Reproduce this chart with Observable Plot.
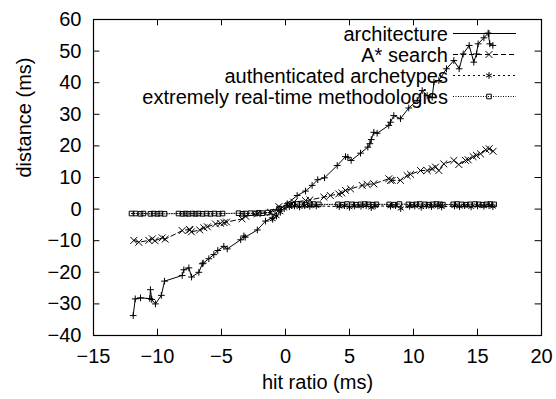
<!DOCTYPE html>
<html>
<head>
<meta charset="utf-8">
<script src="https://cdn.jsdelivr.net/npm/d3@7"></script>
<script src="https://cdn.jsdelivr.net/npm/@observablehq/plot@0.6"></script>
<style>
  html, body { margin: 0; padding: 0; background: #fff; }
  svg { font-family: "Liberation Sans", Arial, sans-serif; }
</style>
</head>
<body>
<div id="chart"></div>
<script>
const seriesNames = ["architecture", "A* search", "authenticated archetypes", "extremely real-time methodologies"];
const xTicks = [-15, -10, -5, 0, 5, 10, 15, 20];
const yTicks = [-40, -30, -20, -10, 0, 10, 20, 30, 40, 50, 60];
const xLabel = "hit ratio (ms)";
const yLabel = "distance (ms)";

const architecture = [
  [-11.9,-33.7],[-11.74,-28.4],[-11.33,-28.1],[-10.6,-28.3],[-10.55,-25.5],[-10.45,-28.6],[-10.16,-30],
  [-9.7,-27.3],[-9.45,-22.8],[-8.07,-21],[-7.94,-19.2],[-7.55,-18.6],[-7.34,-21.5],[-6.77,-20],
  [-6.5,-17.3],[-6.43,-17.1],[-5.99,-15.7],[-5.6,-14.4],[-5.29,-13.1],[-4.82,-11.8],[-4.55,-12.6],
  [-3.5,-9.7],[-3.25,-8.5],[-3.15,-8.9],[-2.2,-6.6],[-1.56,-3.8],[-1.04,-2.8],[-0.52,-0.2],
  [0.13,1.7],[0.91,4.3],[1.56,5.7],[2.08,7.5],[2.52,9.3],[3.05,9.9],[4.04,13.8],[4.69,16.6],
  [4.87,16.4],[5.13,15.4],[5.86,17.7],[6.43,19.6],[6.59,20.7],[6.7,22],[6.9,24.3],[7.16,24],
  [8.07,26.5],[8.2,27.5],[8.46,29.6],[8.98,28.6],[9.63,32],[10.29,34.4],[10.68,37.5],[11.07,35.9],
  [11.46,35.4],[11.6,40.2],[11.98,40.7],[12.58,44.4],[13.15,47],[13.57,44.4],[13.88,49.1],
  [14.35,51.8],[14.71,46.5],[14.92,49.1],[15.05,52.3],[15.5,54.2],[15.83,55.7],[15.96,52.3],[16.2,51.8]
];
const aStarSearch = [
  [-11.85,-9.9],[-11.46,-10.5],[-10.68,-9.9],[-10.4,-9.4],[-10.2,-10],[-9.63,-9.1],[-9.4,-9.5],
  [-8.07,-6.8],[-7.5,-6.4],[-7.47,-6.6],[-7.35,-7.2],[-6.7,-6.6],[-6.38,-5.9],[-6.1,-5.6],
  [-5.47,-4.7],[-5.08,-4.5],[-4.8,-4.3],[-4.6,-4.1],[-3.4,-3.1],[-3.1,-2.3],[-2.2,-1.5],
  [-1.17,-1],[-0.52,0.8],[0.26,1.1],[0.65,2.2],[1.56,2.7],[1.9,2.9],[3,3.8],[3.5,4.3],[4.16,4.8],
  [4.4,5.1],[4.69,5.9],[5.08,6.4],[5.99,7.5],[6.38,7.8],[6.9,8],[8.07,9.6],[8.2,9.1],[8.33,9.1],
  [8.98,9.1],[9.5,10.6],[9.77,11],[10.55,12.2],[11.07,12.2],[11.46,12.8],[11.72,13.3],[11.98,12.2],
  [12.37,14.3],[13.15,15.4],[13.54,14.1],[14.06,15.4],[14.27,15.6],[14.66,16.6],[14.92,17],
  [15.23,17.5],[15.65,18.8],[15.91,19.1],[16.22,18.3]
];
const authenticatedArchetypes = [
  [-1.0,-3.2],[-0.7,-2.2],[-0.4,-1.0],[-0.1,0.2],[0.3,0.8],[0.7,1.0],[1.1,0.7],[1.5,1.1],[1.9,0.9],
  [2.4,1.0],[4.2,0.8],[4.6,1.1],[5.0,0.6],[5.4,1.0],[5.9,0.9],[6.3,1.1],[6.7,0.5],[7.0,1.0],
  [8.2,0.9],[8.6,1.1],[9.0,0.2],[9.7,0.9],[10.1,1.0],[10.6,0.6],[11.0,1.1],[11.4,0.8],[11.9,1.0],
  [12.2,0.7],[13.2,1.0],[13.6,0.8],[14.0,1.1],[14.5,0.7],[15.0,1.0],[15.5,0.9],[15.9,1.1],[16.2,0.8]
];
const extremelyRealTime = [
  [-12.03,-1.4],[-11.72,-1.4],[-11.33,-1.5],[-11.1,-1.4],[-10.55,-1.5],[-10.3,-1.4],[-10.0,-1.5],
  [-9.77,-1.4],[-9.45,-1.5],[-8.36,-1.4],[-8.05,-1.5],[-7.8,-1.4],[-7.58,-1.5],[-7.27,-1.4],
  [-7.03,-1.5],[-6.8,-1.4],[-6.48,-1.5],[-6.17,-1.4],[-5.86,-1.5],[-5.55,-1.4],[-5.23,-1.5],
  [-4.92,-1.4],[-3.67,-1.3],[-3.36,-1.5],[-3.13,-1.4],[-2.73,-1.3],[-2.34,-1.4],[-2.1,-1.2],
  [-1.8,-1.3],[-1.4,-1.1],[-1.0,-0.9],[-0.5,0.2],[0.3,1.5],[0.6,1.4],[0.9,1.6],[1.25,1.5],
  [1.56,1.4],[1.9,1.5],[2.2,1.6],[2.6,1.5],[4.1,1.5],[4.45,1.4],[4.8,1.6],[5.2,1.5],[5.5,1.4],
  [5.86,1.5],[6.2,1.6],[6.5,1.5],[6.8,1.4],[7.1,1.5],[8.1,1.5],[8.5,1.4],[8.9,1.6],[9.6,1.5],
  [9.9,1.4],[10.2,1.5],[10.5,1.6],[10.9,1.5],[11.2,1.4],[11.5,1.5],[11.8,1.6],[12.1,1.5],[12.3,1.4],
  [13.1,1.5],[13.4,1.6],[13.75,1.5],[14.1,1.4],[14.4,1.5],[14.8,1.6],[15.1,1.5],[15.4,1.4],
  [15.7,1.5],[16.0,1.6],[16.3,1.5]
];

const styles = [
  {data: architecture, symbol: "plus", r: 2.3, dash: null},
  {data: aStarSearch, symbol: "times", r: 3.2, dash: "5,3"},
  {data: authenticatedArchetypes, symbol: "asterisk", r: 3.2, dash: "2,3"},
  {data: extremelyRealTime, symbol: "square", r: 2.6, dash: "1,1.5"}
];

const W = 556, H = 399;
const mL = 93, mR = 15, mT = 19, mB = 64;
const FS = 20;

const marks = [];
// inward ticks on all four sides
marks.push(Plot.ruleY(yTicks, {x1: -15, x2: -14.5, y: d => d, stroke: "black"}));
marks.push(Plot.ruleY(yTicks, {x1: 19.5, x2: 20, y: d => d, stroke: "black"}));
marks.push(Plot.ruleX(xTicks, {y1: -40, y2: -38, x: d => d, stroke: "black"}));
marks.push(Plot.ruleX(xTicks, {y1: 58, y2: 60, x: d => d, stroke: "black"}));
styles.forEach(s => {
  marks.push(Plot.line(s.data, {x: d => d[0], y: d => d[1], stroke: "black", strokeWidth: 1, strokeDasharray: s.dash}));
  marks.push(Plot.dot(s.data, {x: d => d[0], y: d => d[1], symbol: () => s.symbol, r: s.r, stroke: "black", fill: "none", strokeWidth: 1}));
});
marks.push(Plot.frame({stroke: "black", strokeWidth: 1.2}));
marks.push(Plot.axisX(xTicks, {tickSize: 0, tickPadding: 13.5, fontSize: FS, label: null}));
marks.push(Plot.axisY(yTicks, {tickSize: 0, tickPadding: 12, fontSize: FS, label: null}));
marks.push(Plot.text([xLabel], {frameAnchor: "bottom", dy: 53, fontSize: FS, fill: "black"}));
marks.push(Plot.text([yLabel], {frameAnchor: "left", dx: -69, rotate: -90, fontSize: FS, fill: "black"}));

const chart = Plot.plot({
  width: W, height: H,
  marginLeft: mL, marginRight: mR, marginTop: mT, marginBottom: mB,
  style: {fontFamily: "'Liberation Sans', Arial, sans-serif", color: "black", background: "white", overflow: "visible"},
  x: {domain: [-15, 20]},
  y: {domain: [-40, 60]},
  symbol: {type: "identity"},
  marks
});
document.getElementById("chart").appendChild(chart);

// legend (gnuplot style, top right inside frame)
const svg = d3.select(chart);
const sx = chart.scale("x"), sy = chart.scale("y");
const frameRight = sx.apply(20), frameTop = sy.apply(60);
const symMap = {plus: d3.symbolPlus, times: d3.symbolTimes, asterisk: d3.symbolAsterisk, square: d3.symbolSquare};
const lg = svg.append("g").attr("font-size", FS).attr("fill", "black");
seriesNames.forEach((name, i) => {
  const y = frameTop + 14.5 + 21 * i;
  lg.append("text").attr("x", frameRight - 93).attr("y", y).attr("dy", "0.35em")
    .attr("text-anchor", "end").text(name);
  lg.append("line").attr("x1", frameRight - 88).attr("x2", frameRight - 25)
    .attr("y1", y).attr("y2", y).attr("stroke", "black").attr("stroke-width", 1)
    .attr("stroke-dasharray", styles[i].dash);
  const sz = Math.PI * styles[i].r * styles[i].r;
  lg.append("path").attr("d", d3.symbol(symMap[styles[i].symbol], sz)())
    .attr("transform", `translate(${frameRight - 52},${y})`)
    .attr("fill", "none").attr("stroke", "black");
});
</script>
</body>
</html>
